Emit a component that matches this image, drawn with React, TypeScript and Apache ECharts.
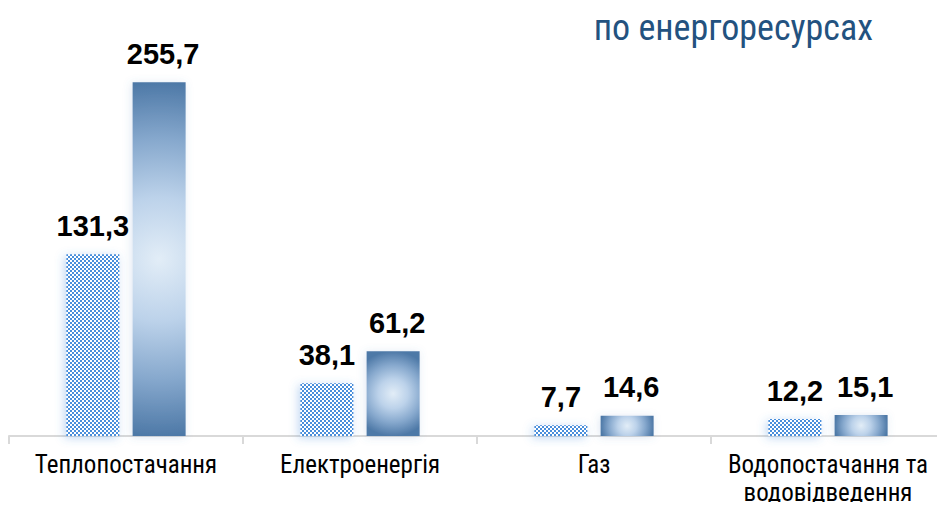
import React, { useEffect, useRef } from "react";
import * as echarts from "echarts";

const categories = [
  "Теплопостачання",
  "Електроенергія",
  "Газ",
  "Водопостачання та\nводовідведення",
];
const seriesA = [131.3, 38.1, 7.7, 12.2];
const seriesB = [255.7, 61.2, 14.6, 15.1];
const titleText = "по енергоресурсах";

function makePattern(): HTMLCanvasElement {
  const c = document.createElement("canvas");
  c.width = 4;
  c.height = 4;
  const ctx = c.getContext("2d")!;
  ctx.fillStyle = "#ffffff";
  ctx.fillRect(0, 0, 4, 4);
  ctx.fillStyle = "#4a8edb";
  ctx.fillRect(0, 0, 2, 2);
  ctx.fillRect(2, 2, 2, 2);
  return c;
}

const fmt = (p: any) => String(p.value).replace(".", ",");
const narrow = "Liberation Sans Narrow, Roboto Condensed, Arial Narrow, Roboto, sans-serif";

export default function App() {
  const ref = useRef<HTMLDivElement>(null);
  useEffect(() => {
    if (!ref.current) return;
    const chart = echarts.init(ref.current, null, { renderer: "svg" });
    const pattern = makePattern();
    const labelStyle = {
      show: true,
      position: "top" as const,
      distance: 14,
      fontFamily: "Liberation Sans, Arial, sans-serif",
      fontWeight: "bold" as const,
      fontSize: 29,
      color: "#000",
      formatter: fmt,
    };
    const stops = [
      { offset: 0, color: "#e2edf7" },
      { offset: 0.35, color: "#bcd2ea" },
      { offset: 0.68, color: "#86a8cd" },
      { offset: 1, color: "#4e79a7" },
    ];
    chart.setOption({
      animation: false,
      backgroundColor: "#ffffff",
      title: {
        text: titleText,
        right: 67,
        top: 5,
        textStyle: {
          fontFamily: narrow,
          fontWeight: "normal",
          fontSize: 36,
          color: "#23527f",
        },
      },
      grid: { left: 9, right: -2, top: 21, bottom: 74, containLabel: false },
      xAxis: {
        type: "category",
        data: categories,
        axisLine: { show: true, lineStyle: { color: "#d9d9d9", width: 2 } },
        axisTick: { show: true, length: 8, lineStyle: { color: "#d9d9d9", width: 2 } },
        axisLabel: {
          margin: 14,
          interval: 0,
          fontFamily: narrow,
          fontSize: 25,
          lineHeight: 28,
          color: "#000",
        },
      },
      yAxis: {
        type: "value",
        min: 0,
        max: 300,
        show: false,
        splitLine: { show: false },
      },
      series: [
        {
          type: "bar",
          data: seriesA,
          barWidth: 53,
          barGap: "25%",
          itemStyle: {
            color: { image: pattern, repeat: "repeat" } as any,
            shadowBlur: 10,
            shadowColor: "rgba(74,142,219,0.35)",
            shadowOffsetX: -2,
            shadowOffsetY: 2,
          },
          label: labelStyle,
        },
        {
          type: "bar",
          data: seriesB,
          barWidth: 53,
          barGap: "25%",
          itemStyle: {
            color: "#86a8cd",
            shadowBlur: 8,
            shadowColor: "rgba(79,129,189,0.2)",
            shadowOffsetX: -1,
            shadowOffsetY: 1,
          },
          label: { ...labelStyle, offset: [4, 0] },
        },
      ],
    });
    // Build a circular radial gradient per bar from the layout the library computed.
    const data = (chart as any).getModel().getSeriesByIndex(1).getData();
    const items = seriesB.map((v, i) => {
      const l = data.getItemLayout(i);
      const w = Math.abs(l.width);
      const h = Math.abs(l.height);
      const cx = l.x + l.width / 2;
      const cy = l.y + l.height / 2;
      return {
        value: v,
        itemStyle: {
          color: {
            type: "radial",
            x: cx,
            y: cy,
            r: Math.max(w, h) / 2,
            global: true,
            colorStops: stops,
          },
        },
      };
    });
    chart.setOption({ series: [{}, { data: items }] });
    return () => chart.dispose();
  }, []);
  return <div ref={ref} style={{ width: 945, height: 510, margin: -8 }} />;
}
